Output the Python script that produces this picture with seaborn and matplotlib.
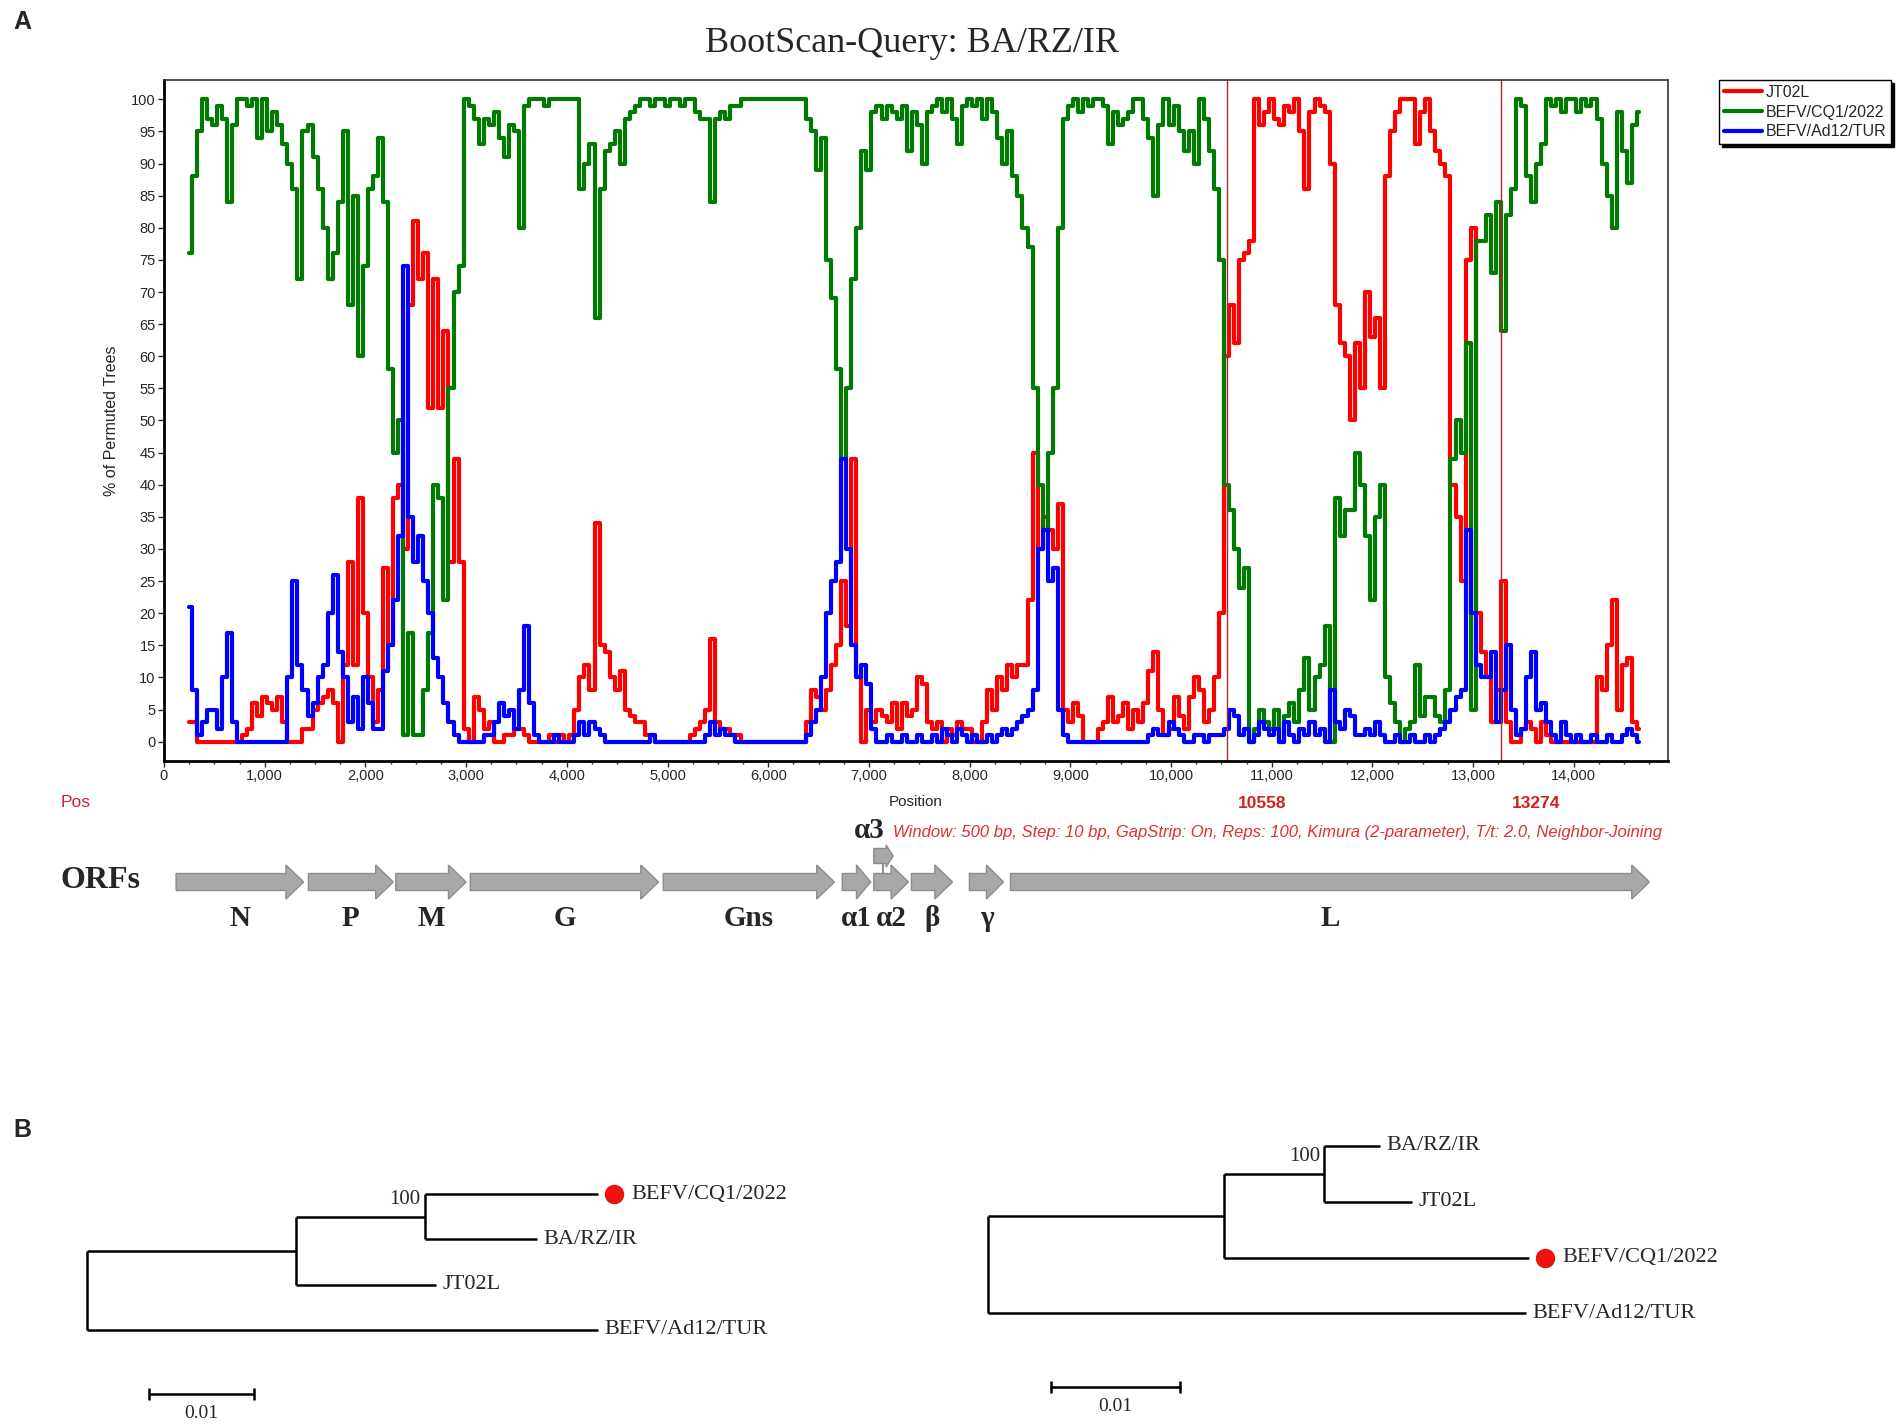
import numpy as np
import pandas as pd
import matplotlib
matplotlib.use("Agg")
import matplotlib.pyplot as plt
import matplotlib.patches as mpatches
from matplotlib.lines import Line2D
from matplotlib.ticker import MultipleLocator, FuncFormatter
from matplotlib.transforms import offset_copy
import seaborn as sns

# ---- bootscan data (every 50 bp) ----
positions = np.arange(250, 14651, 50)

jt02l = [3, 3, 0, 0, 0, 0, 0, 0, 0, 0, 0, 1, 2, 6, 4,                    # 250-950
         7, 6, 5, 7, 3, 0, 0, 0, 2, 2, 5, 6, 7, 8, 6, 0, 12, 28, 12, 38,   # 1000-
         20, 10, 3, 8, 27, 15, 38, 40, 30, 68, 81, 72, 76, 52, 72, 52, 64, 28, 44, 28,
         2, 0, 7, 5, 2, 3, 0, 0, 1, 1, 2, 2, 1, 0, 0, 0, 0, 1, 0, 1,
         0, 1, 5, 10, 12, 8, 34, 15, 14, 10, 8, 11, 5, 4, 3, 3, 1, 1, 0, 0,
         0, 0, 0, 0, 0, 1, 2, 3, 5, 16, 3, 2, 2, 1, 1, 0, 0, 0, 0, 0,
         0, 0, 0, 0, 0, 0, 0, 0, 3, 8, 7, 5, 8, 12, 15, 25, 18, 44, 10, 0,
         5, 3, 5, 4, 3, 6, 2, 6, 4, 5, 10, 9, 3, 2, 3, 0, 2, 1, 3, 2,
         2, 0, 0, 3, 8, 5, 10, 8, 12, 10, 12, 12, 22, 45, 30, 35, 33, 30, 37, 5,
         3, 6, 4, 0, 0, 0, 2, 3, 7, 3, 4, 6, 2, 5, 3, 6, 11, 14, 5, 1,
         2, 7, 4, 2, 7, 10, 8, 3, 5, 10, 20, 60, 68, 62, 75, 76, 78, 100, 96, 98,
         100, 97, 96, 99, 98, 100, 95, 86, 98, 100, 99, 98, 90, 68, 62, 60, 50, 62, 55, 70,
         63, 66, 55, 88, 95, 98, 100, 100, 100, 93, 98, 100, 95, 92, 90, 88, 40, 35, 25, 75,
         80, 20, 14, 10, 3, 8, 25, 3, 0, 0, 2, 3, 2, 0, 3, 1, 0, 0, 0, 0,
         0, 0, 0, 0, 0, 10, 8, 15, 22, 5, 12, 13, 3, 2]                     # 14000-14650

cq1 = [76, 88, 95, 100, 97, 96, 99, 97, 84, 96, 100, 100, 99, 100, 94,
       100, 95, 98, 96, 93, 90, 86, 72, 95, 96, 91, 86, 80, 72, 76, 84, 95, 68, 85, 60,
       74, 86, 88, 94, 84, 58, 45, 50, 1, 17, 1, 1, 8, 17, 40, 38, 22, 55, 70, 74,
       100, 99, 97, 93, 97, 96, 98, 94, 91, 96, 95, 80, 99, 100, 100, 100, 99, 100, 100, 100,
       100, 100, 100, 86, 90, 93, 66, 86, 92, 93, 95, 90, 97, 98, 99, 100, 100, 99, 100, 100,
       99, 100, 100, 99, 100, 100, 98, 97, 97, 84, 97, 98, 97, 99, 99, 100, 100, 100, 100, 100,
       100, 100, 100, 100, 100, 100, 100, 100, 97, 95, 89, 94, 75, 69, 58, 44, 55, 72, 80, 92,
       89, 98, 99, 97, 99, 98, 97, 99, 92, 98, 96, 90, 98, 99, 100, 98, 100, 97, 93, 99,
       100, 99, 100, 97, 100, 98, 94, 90, 95, 88, 85, 80, 77, 55, 40, 33, 45, 55, 80, 97,
       99, 100, 98, 100, 99, 100, 100, 99, 93, 98, 96, 97, 98, 100, 100, 97, 94, 85, 96, 100,
       96, 99, 95, 92, 95, 90, 100, 97, 92, 86, 75, 40, 36, 30, 24, 27, 0, 2, 5, 3,
       2, 5, 0, 4, 6, 3, 8, 13, 5, 10, 12, 18, 0, 38, 32, 36, 36, 45, 40, 32,
       22, 35, 40, 10, 6, 3, 0, 2, 3, 12, 4, 7, 7, 4, 3, 8, 44, 50, 45, 62,
       5, 78, 78, 82, 73, 84, 64, 82, 86, 100, 99, 88, 84, 90, 93, 100, 99, 100, 98, 100,
       100, 98, 100, 99, 100, 97, 90, 85, 80, 98, 92, 87, 96, 98]

ad12 = [21, 8, 1, 3, 5, 5, 2, 10, 17, 3, 0, 0, 0, 0, 0,
        0, 0, 0, 0, 0, 10, 25, 12, 8, 4, 6, 10, 12, 20, 26, 14, 10, 3, 7, 2,
        10, 6, 2, 2, 11, 15, 22, 32, 74, 35, 28, 32, 25, 20, 13, 10, 6, 3, 1, 0,
        0, 0, 0, 0, 1, 1, 3, 6, 4, 5, 2, 8, 18, 6, 1, 0, 0, 0, 1, 0,
        0, 0, 1, 3, 1, 3, 2, 1, 0, 0, 0, 0, 0, 0, 0, 0, 0, 1, 0, 0,
        0, 0, 0, 0, 0, 0, 0, 0, 1, 3, 1, 2, 1, 1, 0, 0, 0, 0, 0, 0,
        0, 0, 0, 0, 0, 0, 0, 0, 1, 3, 5, 10, 20, 25, 28, 44, 30, 15, 10, 12,
        9, 2, 0, 0, 1, 0, 0, 1, 0, 0, 1, 0, 0, 1, 0, 2, 1, 0, 2, 1,
        0, 1, 0, 0, 1, 0, 1, 2, 1, 2, 3, 4, 5, 8, 30, 33, 25, 27, 5, 1,
        0, 0, 0, 0, 0, 0, 0, 0, 0, 0, 0, 0, 0, 0, 0, 0, 1, 2, 1, 1,
        3, 2, 1, 0, 0, 1, 1, 0, 1, 1, 1, 2, 5, 4, 1, 2, 0, 1, 3, 2,
        1, 2, 0, 3, 1, 0, 2, 1, 3, 1, 2, 0, 8, 3, 2, 5, 4, 1, 1, 2,
        1, 3, 1, 0, 0, 1, 0, 0, 1, 0, 0, 1, 0, 1, 2, 3, 5, 7, 8, 33,
        20, 12, 10, 10, 14, 3, 8, 15, 5, 1, 2, 10, 14, 5, 6, 3, 1, 0, 3, 1,
        0, 1, 0, 0, 1, 0, 0, 1, 0, 0, 1, 2, 1, 0]

series_names = ['JT02L', 'BEFV/CQ1/2022', 'BEFV/Ad12/TUR']
series_colors = ['#ff0000', '#007a00', '#0000ff']
breakpoints = [10558, 13274]
scan_params = ('Window: 500 bp, Step: 10 bp, GapStrip: On, Reps: 100, '
               'Kimura (2-parameter), T/t: 2.0, Neighbor-Joining')

# ORF map (genome positions)
orf_names = ['N', 'P', 'M', 'G', 'Gns', 'α1', 'α2', 'β', 'γ', 'L']
orf_start = [120, 1434, 2301, 3042, 4958, 6735, 7048, 7422, 7998, 8406]
orf_end = [1386, 2277, 3000, 4910, 6657, 7018, 7392, 7830, 8336, 14750]
alpha3_start, alpha3_end = 7048, 7241

# trees: (parent, child, branch length)
left_edges = [('root', 'n1', 0.0199), ('n1', 'n2', 0.0123),
              ('n2', 'BEFV/CQ1/2022', 0.0165), ('n2', 'BA/RZ/IR', 0.0107),
              ('n1', 'JT02L', 0.0134), ('root', 'BEFV/Ad12/TUR', 0.0487)]
left_leaves = ['BEFV/CQ1/2022', 'BA/RZ/IR', 'JT02L', 'BEFV/Ad12/TUR']
right_edges = [('root', 'n1', 0.0183), ('n1', 'n2', 0.0078),
               ('n2', 'BA/RZ/IR', 0.0043), ('n2', 'JT02L', 0.0068),
               ('n1', 'BEFV/CQ1/2022', 0.0237), ('root', 'BEFV/Ad12/TUR', 0.0418)]
right_leaves = ['BA/RZ/IR', 'JT02L', 'BEFV/CQ1/2022', 'BEFV/Ad12/TUR']
bootstrap = {'n2': 100}
query = 'BEFV/CQ1/2022'

sns.set_style("ticks")
plt.rcParams['font.family'] = ['Liberation Sans', 'DejaVu Sans']
SERIF = ['Liberation Serif', 'DejaVu Serif']

W, H = 1904, 1425
def fx(px):
    return px / W
def fy(py):
    return 1 - py / H

fig = plt.figure(figsize=(W / 100, H / 100), dpi=100)
AX_L, AX_R, AX_T, AX_B = 164, 1668, 80, 761

# ---------------- panel A ----------------
ax = fig.add_axes([fx(AX_L), fy(AX_B), fx(AX_R) - fx(AX_L), fy(AX_T) - fy(AX_B)])
df = pd.DataFrame({
    'Position': np.tile(positions, 3),
    'pct': jt02l + cq1 + ad12,
    'Sequence': np.repeat(series_names, len(positions)),
})
sns.lineplot(data=df, x='Position', y='pct', hue='Sequence', hue_order=series_names,
             palette=dict(zip(series_names, series_colors)), estimator=None,
             errorbar=None, linewidth=3.0, drawstyle='steps-mid', legend=False, ax=ax)
for bp in breakpoints:
    ax.axvline(bp, color='#b02828', lw=1)

ax.set_xlim(0, 14935)
ax.set_ylim(-3.0, 103)
ax.yaxis.set_major_locator(MultipleLocator(5))
ax.xaxis.set_major_locator(MultipleLocator(1000))
ax.xaxis.set_minor_locator(MultipleLocator(250))
ax.xaxis.set_major_formatter(FuncFormatter(lambda v, p: f"{int(v):,}"))
ax.tick_params(axis='both', which='major', direction='out', length=4, width=1,
               labelsize=10.5, pad=2, bottom=True, left=True)
ax.tick_params(axis='x', which='minor', direction='out', length=2.5, width=1, bottom=True)
for side in ['left', 'bottom']:
    ax.spines[side].set_linewidth(2)
    ax.spines[side].set_color('black')
for side in ['top', 'right']:
    ax.spines[side].set_linewidth(1.2)
    ax.spines[side].set_color('#333333')

ax.set_xlabel('Position', fontsize=11)
ax.xaxis.set_label_coords(0.5, -0.05)
ax.set_ylabel('% of Permuted Trees', fontsize=11.5)
ax.yaxis.set_label_coords(-0.03, 0.5)

handles = [Line2D([0], [0], color=c, lw=3) for c in series_colors]
leg = ax.legend(handles, series_names, loc='upper left',
                bbox_to_anchor=(fx(1719), fy(80)), bbox_transform=fig.transFigure,
                frameon=True, fancybox=False, shadow={'color': 'black', 'alpha': 1},
                edgecolor='black', framealpha=1, fontsize=11.5, handlelength=2.4,
                handletextpad=0.2, labelspacing=0.3, borderpad=0.3, borderaxespad=0)
leg.get_frame().set_linewidth(1)

fig.text(fx(912), fy(44), 'BootScan-Query: BA/RZ/IR', ha='center', va='center',
         family=SERIF, fontsize=26)
fig.text(fx(22), fy(22), 'A', ha='center', va='center', fontsize=18, fontweight='bold')
fig.text(fx(76), fy(803), 'Pos', ha='center', va='center', color='#d02030', fontsize=12.5)
for bp in breakpoints:
    ax.annotate(str(bp), (bp, -0.063), xycoords=('data', 'axes fraction'),
                xytext=(8, 0), textcoords='offset points', ha='left', va='center',
                color='#d42020', fontsize=12.5, fontweight='bold')
fig.text(fx(1662), fy(833), scan_params, ha='right', va='center', color='#e03030',
         style='italic', fontsize=12)

# ORF map
ax_orf = fig.add_axes([fx(AX_L), fy(960), fx(AX_R) - fx(AX_L), fy(800) - fy(960)])
ax_orf.set_xlim(0, 14935)
ax_orf.set_ylim(960, 800)
ax_orf.axis('off')
for name, s, e in zip(orf_names, orf_start, orf_end):
    ax_orf.add_patch(mpatches.FancyArrow(s, 882, e - s, 0, width=17, head_width=34,
                                         head_length=min(175, 0.5 * (e - s)),
                                         length_includes_head=True, fc='#a8a8a8',
                                         ec='#8c8c8c', lw=1))
    ax_orf.text((s + e) / 2, 919, name, ha='center', va='center', family=SERIF,
                fontweight='bold', fontsize=21)
ax_orf.add_patch(mpatches.FancyArrow(alpha3_start, 856, alpha3_end - alpha3_start, 0,
                                     width=15, head_width=22, head_length=70,
                                     length_includes_head=True, fc='#a8a8a8',
                                     ec='#8c8c8c', lw=1))
a3_mid = (alpha3_start + alpha3_end) / 2
ax_orf.plot([a3_mid, a3_mid], [864, 873], color='#8c8c8c', lw=1.5)
ax_orf.text(alpha3_start - 40, 830, 'α3', ha='center', va='center', family=SERIF,
            fontweight='bold', fontsize=21)
fig.text(fx(61), fy(880), 'ORFs', ha='left', va='center', family=SERIF,
         fontweight='bold', fontsize=23)

# ---------------- panel B ----------------
fig.text(fx(22), fy(1130), 'B', ha='center', va='center', fontsize=18, fontweight='bold')


def tree_axes(left, right, top, bottom, root_px, scale, leaf0_px, spacing):
    a = fig.add_axes([fx(left), fy(bottom), fx(right) - fx(left), fy(top) - fy(bottom)])
    a.set_xlim((left - root_px) / scale, (right - root_px) / scale)
    a.set_ylim((bottom - leaf0_px) / spacing, (top - leaf0_px) / spacing)
    a.axis('off')
    return a


def draw_tree(a, edges, leaves, bar_x, bar_y, bar_tick):
    children, length = {}, {}
    for p, c, l in edges:
        children.setdefault(p, []).append(c)
        length[c] = l
    xs, ys = {'root': 0.0}, {}

    def place(node):
        for c in children.get(node, []):
            xs[c] = xs[node] + length[c]
            place(c)
        if node in children:
            ys[node] = np.mean([ys[c] for c in children[node]])
        else:
            ys[node] = leaves.index(node)

    place('root')
    kw = dict(color='black', lw=1.8, solid_capstyle='butt')
    for p, c, l in edges:
        a.plot([xs[p], xs[c]], [ys[c], ys[c]], **kw)
    for node, ch in children.items():
        a.plot([xs[node], xs[node]], [min(ys[c] for c in ch), max(ys[c] for c in ch)], **kw)
    for leaf in leaves:
        if leaf == query:
            tr = offset_copy(a.transData, fig=fig, x=11.5, y=0, units='points')
            a.plot(xs[leaf], ys[leaf], 'o', ms=13, color='#ee1111', transform=tr)
            off = 24
        else:
            off = 4.5
        a.annotate(leaf, (xs[leaf], ys[leaf]), xytext=(off, 0), textcoords='offset points',
                   ha='left', va='center', family=SERIF, fontsize=16)
    for node, val in bootstrap.items():
        a.annotate(str(val), (xs[node], ys[node]), xytext=(-3, 12),
                   textcoords='offset points', ha='right', va='center',
                   family=SERIF, fontsize=15)
    a.plot([bar_x, bar_x + 0.01], [bar_y, bar_y], **kw)
    for bx in [bar_x, bar_x + 0.01]:
        a.plot([bx, bx], [bar_y - bar_tick, bar_y + bar_tick], **kw)
    a.annotate('0.01', (bar_x + 0.005, bar_y), xytext=(0, -14), textcoords='offset points',
               ha='center', va='center', family=SERIF, fontsize=14)


ax_t1 = tree_axes(40, 940, 1150, 1425, 86.8, 10500, 1194, 45.3)
draw_tree(ax_t1, left_edges, left_leaves, 0.0059, 4.415, 6 / 45.3)
ax_t2 = tree_axes(960, 1900, 1110, 1425, 988.4, 12870, 1145.7, 55.9)
draw_tree(ax_t2, right_edges, right_leaves, 0.00486, 4.317, 6 / 55.9)

fig.savefig('out.png', dpi=100)
